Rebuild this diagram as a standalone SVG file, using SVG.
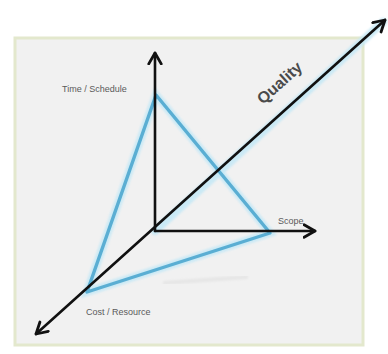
<svg xmlns="http://www.w3.org/2000/svg" width="388" height="354" viewBox="0 0 388 354">
  <style>
    .axis { stroke: #111; stroke-width: 2.6; fill: none; stroke-linecap: round; }
    .halo { stroke: #c4e8f6; stroke-width: 8; fill: none; stroke-linecap: round; opacity: 0.85; }
    .edge { stroke: #5aaed3; stroke-width: 3.4; fill: none; stroke-linecap: round; }
    .lbl { font-family: "Liberation Sans", Arial, sans-serif; font-size: 9px; fill: #5a5a5a; }
    .q { font-family: "Liberation Sans", Arial, sans-serif; font-size: 16px; font-weight: bold; fill: #4a4a4a; }
  </style>
  <defs>
    <marker id="arr" viewBox="0 0 10 10" refX="8" refY="5" markerWidth="6" markerHeight="6" orient="auto-start-reverse" markerUnits="strokeWidth">
      <polyline points="1,1 8,5 1,9" fill="none" stroke="#111" stroke-width="1.8" stroke-linecap="round" stroke-linejoin="round"/>
    </marker>
    <filter id="soft" x="-10%" y="-10%" width="120%" height="120%">
      <feGaussianBlur stdDeviation="1.2"/>
    </filter>
  </defs>
  <rect width="388" height="354" fill="#ffffff"/>
  <!-- panel -->
  <rect x="15" y="38" width="348" height="307" fill="#f1f1f1" stroke="#e3e8cd" stroke-width="3"/>
  <!-- faint shadow under base edge -->
  <line x1="163" y1="283" x2="248" y2="277" stroke="#e6e6e6" stroke-width="4" filter="url(#soft)"/>

  <g id="connectors">
    <!-- triangle halo -->
    <polygon class="halo" points="156,95 270,233 87,292" filter="url(#soft)"/>
    <!-- quality axis halo -->
    <line class="halo" x1="155" y1="231" x2="383" y2="22" filter="url(#soft)"/>
    <!-- triangle -->
    <polygon class="edge" points="156,95 270,233 87,292" stroke-linejoin="round"/>
    <!-- axes -->
    <line class="axis" x1="155" y1="231" x2="155" y2="53" marker-end="url(#arr)"/>
    <line class="axis" x1="155" y1="231" x2="315" y2="231" marker-end="url(#arr)"/>
    <line class="axis" x1="36" y1="334" x2="385" y2="20" marker-start="url(#arr)" marker-end="url(#arr)"/>
  </g>

  <g id="time">
    <text class="lbl" x="62" y="92">Time / Schedule</text>
  </g>
  <g id="scope">
    <text class="lbl" x="278" y="224">Scope</text>
  </g>
  <g id="cost">
    <text class="lbl" x="86" y="315">Cost / Resource</text>
  </g>
  <g id="quality">
    <text class="q" transform="translate(263,105) rotate(-42)">Quality</text>
  </g>
</svg>
